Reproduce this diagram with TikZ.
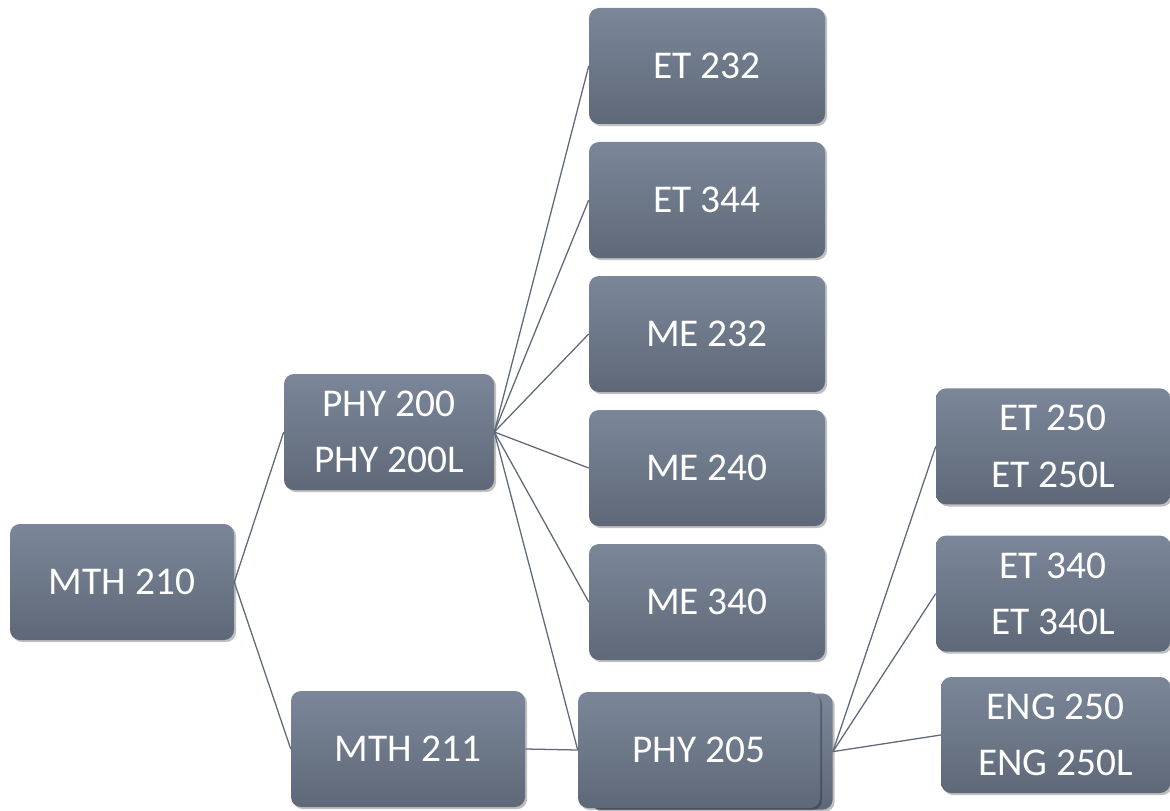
\documentclass[tikz,border=0pt]{standalone}
\usepackage{fontspec}
\setmainfont{Carlito}
\usetikzlibrary{shapes,arrows,positioning,shadows}

\definecolor{boxtop}{HTML}{7B8799}
\definecolor{boxbot}{HTML}{5E6878}
\definecolor{linegray}{HTML}{5E6878}

\begin{document}
\begin{tikzpicture}[
    course/.style={rectangle, rounded corners=0.25cm, minimum height=2.9cm, top color=boxtop, bottom color=boxbot, draw=none, text=white, align=center, font=\fontsize{28}{40}\selectfont, drop shadow={shadow xshift=1.5pt, shadow yshift=-1.5pt, opacity=0.25, fill=black}},
    edge/.style={draw=linegray, line width=0.9pt},
]

\useasboundingbox (0,0) rectangle (29.25,20.25);

% Courses
\node[course, minimum width=5.6cm] (mth210) at (3.05, 5.7) {MTH 210};
\node[course, minimum width=5.25cm] (phy200) at (9.725, 9.45) {PHY 200\\PHY 200L};
\node[course, minimum width=5.85cm] (mth211) at (10.2, 1.525) {MTH 211};

\node[course, minimum width=6.05cm] (phy205b) at (17.79, 1.46) {};
\node[course, minimum width=6.05cm] (phy205) at (17.475, 1.5) {PHY 205};

\node[course, minimum width=5.9cm] (et232) at (17.675, 18.6) {ET 232};
\node[course, minimum width=5.9cm] (et344) at (17.675, 15.25) {ET 344};
\node[course, minimum width=5.9cm] (me232) at (17.675, 11.9) {ME 232};
\node[course, minimum width=5.9cm] (me240) at (17.675, 8.55) {ME 240};
\node[course, minimum width=5.9cm] (me340) at (17.675, 5.2) {ME 340};

\node[course, minimum width=5.85cm] (et250) at (26.325, 9.09) {ET 250\\ET 250L};
\node[course, minimum width=5.85cm] (et340) at (26.325, 5.41) {ET 340\\ET 340L};
\node[course, minimum width=5.725cm] (eng250) at (26.39, 1.875) {ENG 250\\ENG 250L};

\draw[edge] (mth210.east) -- (phy200.west);
\draw[edge] (mth210.east) -- (mth211.west);
\draw[edge] (phy200.east) -- (et232.west);
\draw[edge] (phy200.east) -- (et344.west);
\draw[edge] (phy200.east) -- (me232.west);
\draw[edge] (phy200.east) -- (me240.west);
\draw[edge] (phy200.east) -- (me340.west);
\draw[edge] (phy200.east) -- (phy205.west);
\draw[edge] (mth211.east) -- (phy205.west);
\draw[edge] (phy205b.east) -- (et250.west);
\draw[edge] (phy205b.east) -- (et340.west);
\draw[edge] (phy205b.east) -- (eng250.west);

\end{tikzpicture}
\end{document}
